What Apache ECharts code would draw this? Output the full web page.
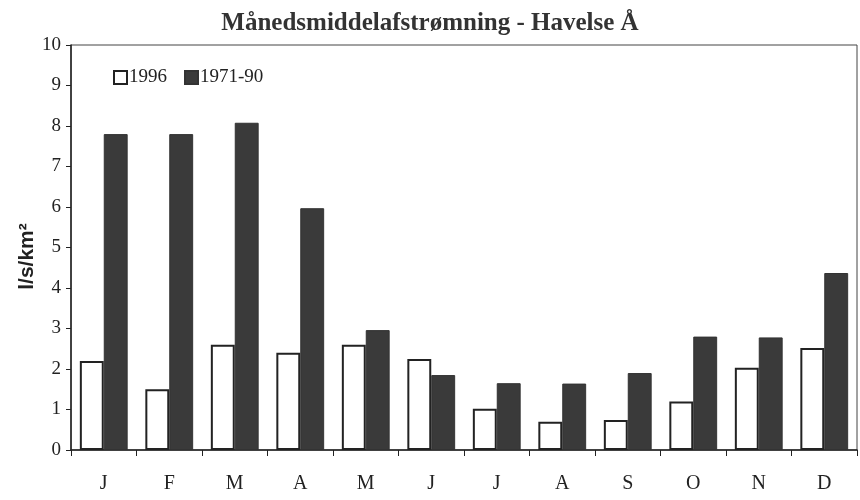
<!DOCTYPE html>
<html>
<head>
<meta charset="utf-8">
<script src="https://cdn.jsdelivr.net/npm/echarts@6/dist/echarts.min.js"></script>
<style>
  html, body { margin: 0; padding: 0; background: #fff; }
  #mychart { width: 860px; height: 500px; }
</style>
</head>
<body>
<div id="mychart"></div>
<script>
// Månedsmiddelafstrømning, l/s/km2
const months = ['J', 'F', 'M', 'A', 'M', 'J', 'J', 'A', 'S', 'O', 'N', 'D']
const values1996 = [2.2, 1.5, 2.6, 2.4, 2.6, 2.25, 1.02, 0.7, 0.74, 1.2, 2.03, 2.52]
const values7190 = [7.8, 7.8, 8.08, 5.97, 2.96, 1.85, 1.65, 1.64, 1.9, 2.8, 2.78, 4.37]

const serif = '"Liberation Serif", "DejaVu Serif", serif'

const option = {
  backgroundColor: '#ffffff',
  animation: false,
  title: {
    text: 'Månedsmiddelafstrømning - Havelse Å',
    left: 'center',
    top: 6,
    textStyle: {
      fontFamily: serif,
      fontSize: 25,
      fontWeight: 'bold',
      color: '#333'
    }
  },
  legend: {
    left: 108,
    top: 63,
    itemWidth: 13,
    itemHeight: 13,
    itemGap: 17,
    icon: 'rect',
    textStyle: {
      fontFamily: serif,
      fontSize: 19,
      color: '#222',
      padding: [0, 0, 0, -3]
    },
    data: ['1996', '1971-90']
  },
  grid: {
    left: 71,
    right: 3,
    top: 45,
    bottom: 50,
    show: true,
    borderColor: '#444',
    borderWidth: 1
  },
  xAxis: {
    type: 'category',
    data: months,
    axisLine: { lineStyle: { color: '#222', width: 1.5 } },
    axisTick: { show: true, length: 6, lineStyle: { color: '#222' } },
    axisLabel: {
      margin: 24,
      fontFamily: serif,
      fontSize: 20,
      color: '#222'
    }
  },
  yAxis: {
    type: 'value',
    min: 0,
    max: 10,
    interval: 1,
    name: 'l/s/km²',
    nameLocation: 'middle',
    nameGap: 33,
    nameMoveOverlap: false,
    nameTextStyle: {
      fontFamily: '"Liberation Sans", Arial, sans-serif',
      fontSize: 21,
      fontWeight: 'bold',
      color: '#222',
      padding: [0, 18, 0, 0]
    },
    splitLine: { show: false },
    axisLine: { show: true, lineStyle: { color: '#222', width: 1.5 } },
    axisTick: { show: true, length: 5, lineStyle: { color: '#222' } },
    axisLabel: {
      margin: 10,
      fontFamily: serif,
      fontSize: 19,
      color: '#222'
    }
  },
  series: [{
    name: '1996',
    type: 'bar',
    barGap: '0%',
    barCategoryGap: '27%',
    itemStyle: {
      color: '#ffffff',
      borderColor: '#222',
      borderWidth: 2
    },
    data: values1996
  }, {
    name: '1971-90',
    type: 'bar',
    itemStyle: {
      color: '#3a3a3a',
      borderColor: '#333',
      borderWidth: 1
    },
    data: values7190
  }]
}

const myChart = echarts.init(document.getElementById('mychart'))
myChart.setOption(option)
</script>
</body>
</html>
